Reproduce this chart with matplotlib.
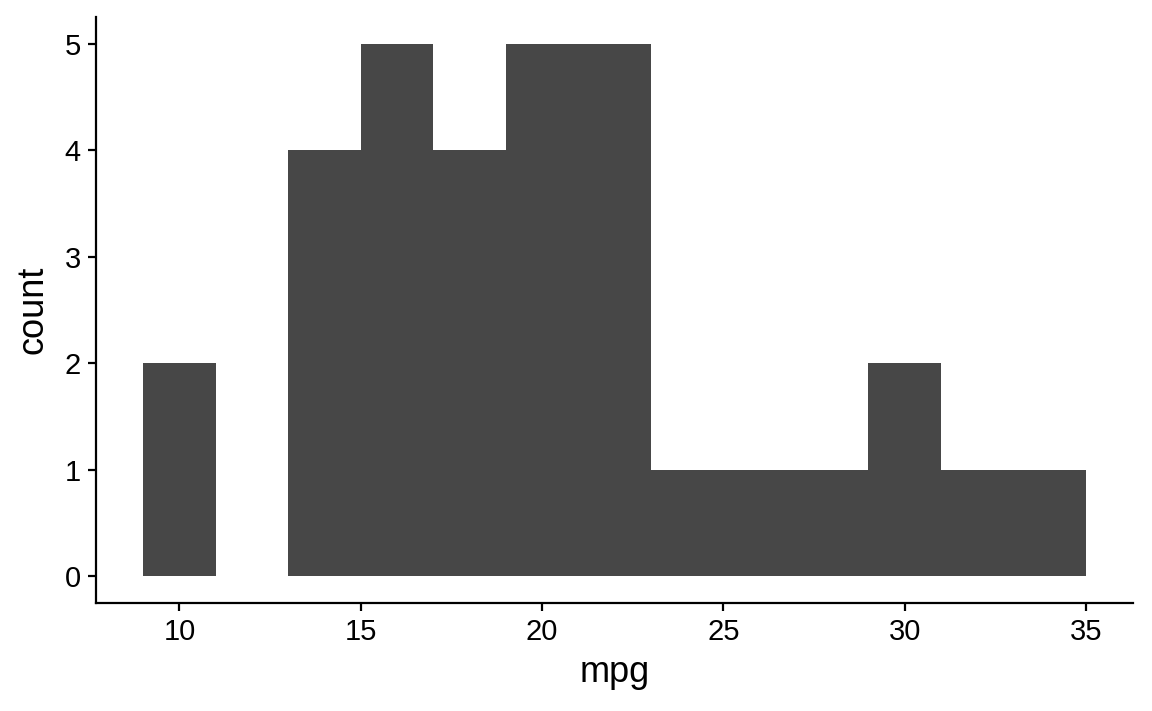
import matplotlib
matplotlib.use("Agg")
import matplotlib.pyplot as plt
import numpy as np

bin_left = [9, 11, 13, 15, 17, 19, 21, 23, 25, 27, 29, 31, 33]
counts = [2, 0, 4, 5, 4, 5, 5, 1, 1, 1, 2, 1, 1]
binwidth = 2
xticks = [10, 15, 20, 25, 30, 35]
yticks = [0, 1, 2, 3, 4, 5]

plt.rcParams['font.family'] = ['Liberation Sans', 'DejaVu Sans']
fig = plt.figure(figsize=(11.52, 7.11), dpi=100)
ax = fig.add_axes([96/1152, 1-603/711, (1133-96)/1152, (603-17)/711])
ax.bar(bin_left, counts, width=binwidth, align='edge', color='#474747', linewidth=0)
ax.set_xlim(7.7, 36.3)
ax.set_ylim(-0.25, 5.25)
ax.set_xticks(xticks)
ax.set_yticks(yticks)
for s in ['top', 'right']:
    ax.spines[s].set_visible(False)
for s in ['left', 'bottom']:
    ax.spines[s].set_linewidth(1.6)
ax.tick_params(axis='both', length=6, width=1.6, labelsize=21, colors='black', pad=5)
ax.set_xlabel('mpg', fontsize=26, labelpad=6)
ax.set_ylabel('count', fontsize=26, labelpad=10)
fig.savefig('out.png', dpi=100)
